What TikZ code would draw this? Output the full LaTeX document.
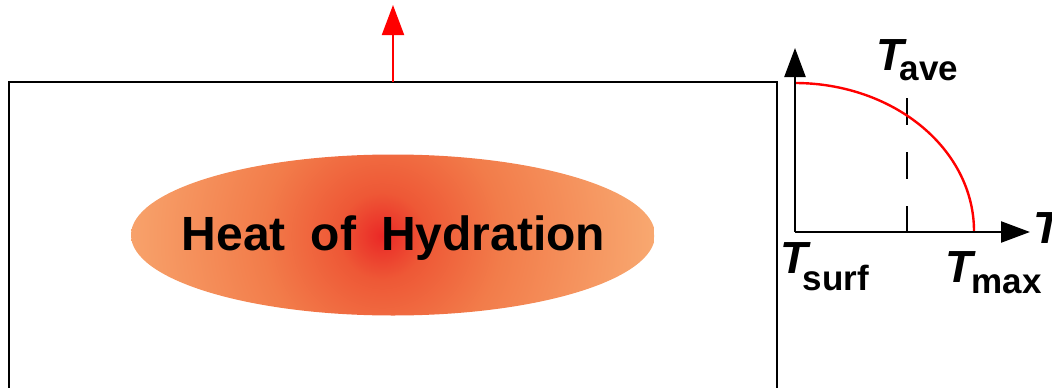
\documentclass[tikz,border=0pt]{standalone}
\usepackage{fontspec}
\setmainfont{Liberation Sans}
\usetikzlibrary{arrows.meta,shapes.geometric}
\definecolor{heatc}{RGB}{234,40,38}
\definecolor{heatm}{RGB}{238,88,54}
\definecolor{heatn}{RGB}{242,124,74}
\definecolor{heato}{RGB}{248,168,112}
\pgfdeclareradialshading{heat}{\pgfpoint{0bp}{0bp}}{color(0bp)=(heatc); color(4bp)=(heatm); color(11bp)=(heatn); color(25bp)=(heato); color(50bp)=(heato)}
\tikzset{
  frame/.style={line width=2.4pt, black},
  axis/.style={line width=2.4pt, black, -{Triangle[length=29pt,width=21pt]}},
  heatarrow/.style={line width=2pt, red, -{Triangle[length=30pt,width=22pt]}},
  curve/.style={line width=2.4pt, red},
  guide/.style={line width=2pt, black, dash pattern=on 27pt off 27pt},
  lbl/.style={anchor=base west, inner sep=0pt, font=\bfseries},
}
\begin{document}
\begin{tikzpicture}[x=1pt,y=-1pt]
\useasboundingbox (0,0) rectangle (1052,388);
\clip (0,0) rectangle (1052,388);
% body
\coordinate (bl) at (9,400);
\coordinate (tl) at (9,82);
\coordinate (tr) at (777,82);
\coordinate (br) at (777,400);
\draw[frame] (bl) -- (tl) -- (tr) -- (br);
% heat arrow
\coordinate (hbase) at (393,82);
\coordinate (htip) at (393,5);
\draw[heatarrow] (hbase) -- (htip);
% ellipse with a circular radial gradient
\begin{scope}
  \clip (393,235) ellipse [x radius=262pt, y radius=80.5pt];
  \shade[shading=heat] (382,236) circle [radius=272pt];
\end{scope}
\node[ellipse, minimum width=524pt, minimum height=161pt, inner sep=0pt] (heat) at (393,235) {};
\node[anchor=base, inner sep=0pt, font=\fontsize{48}{48}\selectfont\bfseries] (heattext) at (393.5,250) {Heat\hspace{25pt}of\hspace{25pt}Hydration};
% graph
\coordinate (O) at (795,232);
\coordinate (ytip) at (795,48);
\coordinate (xtip) at (1030,232);
\coordinate (dtop) at (907,98);
\coordinate (dbot) at (907,232);
\draw[guide] (dtop) -- (dbot);
\draw[curve] plot[domain=90:0, samples=80] ({795+179*cos(\x)},{231-148*sin(\x)});
\draw[axis] (O) -- (ytip);
\draw[axis] (O) -- (xtip);
% labels
\node[lbl] (tave) at (876,70) {\fontsize{45}{45}\selectfont\itshape T\kern-4pt\raisebox{-10pt}{\upshape\fontsize{35}{35}\selectfont ave}};
\node[lbl] (tsurf) at (780,273) {\fontsize{45}{45}\selectfont\itshape T\kern-5pt\raisebox{-17pt}{\upshape\fontsize{35}{35}\selectfont surf}};
\node[lbl] (tmax) at (945,282) {\fontsize{45}{45}\selectfont\itshape T\kern-1pt\raisebox{-11pt}{\upshape\fontsize{35}{35}\selectfont max}};
\node[lbl] (taxis) at (1033,243) {\fontsize{45}{45}\selectfont\itshape T};
\end{tikzpicture}
\end{document}
